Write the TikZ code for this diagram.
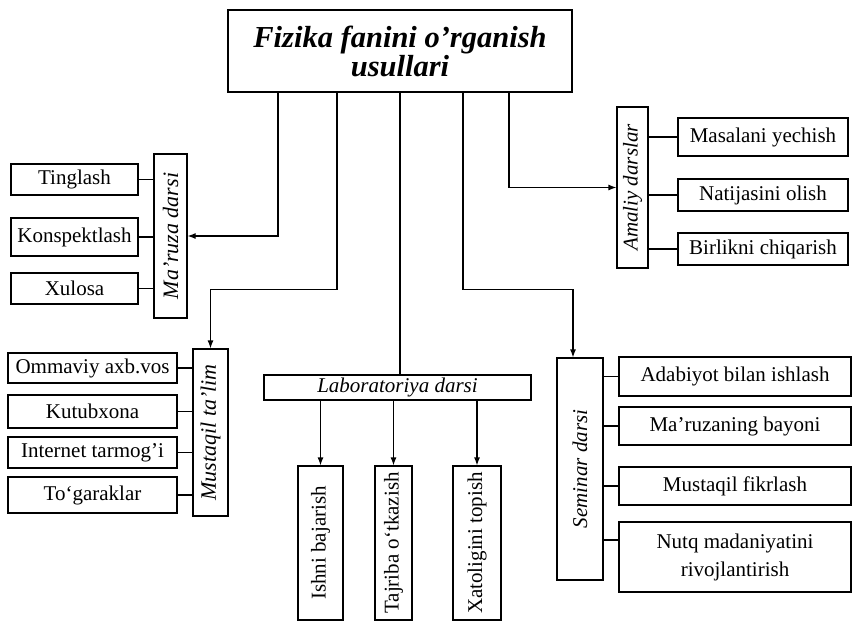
\documentclass[tikz,border=0pt]{standalone}
\usepackage{fontspec}
\setmainfont{Liberation Serif}
\usepackage{graphicx}
\usetikzlibrary{arrows.meta,positioning}

\begin{document}
\begin{tikzpicture}[x=1pt, y=-1pt, line width=1.2pt,
    every node/.style={font=\fontsize{21}{28}\selectfont, inner sep=0pt},
    sz/.style n args={2}{draw, minimum width=#1pt, minimum height=#2pt},
    arr/.style={-{Latex[length=8pt,width=6pt]}}]
    \useasboundingbox (0,0) rectangle (852,621);

    \node[sz={344}{82}, align=center, font=\fontsize{30.5}{29}\selectfont\bfseries\itshape] (title) at (400,51) {Fizika fanini o’rganish\\usullari};

    % Ma'ruza darsi
    \node[sz={33}{164}] (maruza) at (170.5,236) {\rotatebox{90}{\fontsize{22}{22}\selectfont\itshape Ma’ruza darsi}};
    \node[sz={127}{31}] (tinglash) at (74.5,179.5) {Tinglash};
    \node[sz={127}{38}] (konspekt) at (74.5,237) {Konspektlash};
    \node[sz={127}{31}] (xulosa) at (74.5,288.5) {Xulosa};

    % Amaliy darslar
    \node[sz={31}{161}] (amaliy) at (632.5,187.5) {\rotatebox{90}{\itshape Amaliy darslar}};
    \node[sz={170}{38}] (masala) at (763,137) {Masalani yechish};
    \node[sz={170}{32}] (natija) at (763,195) {Natijasini olish};
    \node[sz={170}{32}] (birlik) at (763,249) {Birlikni chiqarish};

    % Mustaqil ta'lim
    \node[sz={35}{167}] (mustaqil) at (210.5,432.5) {\rotatebox{90}{\fontsize{22}{22}\selectfont\itshape Mustaqil ta’lim}};
    \node[sz={169}{30}] (ommaviy) at (92.5,368) {Ommaviy axb.vos};
    \node[sz={169}{33}] (kutub) at (92.5,411.5) {Kutubxona};
    \node[sz={169}{31}] (internet) at (92.5,452.5) {Internet tarmog’i};
    \node[sz={169}{36}] (togarak) at (92.5,495) {To‘garaklar};

    % Laboratoriya darsi
    \node[sz={267}{25}] (lab) at (397.5,387.5) {\itshape Laboratoriya darsi};
    \node[sz={45}{154}] (ishni) at (320.5,543) {\rotatebox{90}{Ishni bajarish}};
    \node[sz={37}{154}] (tajriba) at (393.5,543) {\rotatebox{90}{Tajriba o‘tkazish}};
    \node[sz={48}{154}] (xato) at (477,543) {\rotatebox{90}{Xatoligini topish}};

    % Seminar darsi
    \node[sz={46}{222}] (seminar) at (580,469) {\rotatebox{90}{\itshape Seminar darsi}};
    \node[sz={232}{39}] (adabiyot) at (735,376.5) {Adabiyot bilan ishlash};
    \node[sz={232}{38}] (bayon) at (735,426) {Ma’ruzaning bayoni};
    \node[sz={232}{38}] (fikr) at (735,486) {Mustaqil fikrlash};
    \node[sz={232}{70}, align=center] (nutq) at (735,557) {Nutq madaniyatini\\rivojlantirish};
    \coordinate (nutqin) at ([yshift=17pt]nutq.west);

    % from the title down to each group
    \draw[arr] ([xshift=-122pt]title.south) |- (maruza.east);
    \draw[arr] ([xshift=-63pt]title.south) -- ++(0,197) -| (mustaqil.north);
    \draw (title.south) -- (title.south |- lab.north);
    \draw[arr] ([xshift=63pt]title.south) -- ++(0,197) -| ([xshift=-7pt]seminar.north);
    \draw[arr] ([xshift=109pt]title.south) |- (amaliy.west);

    % short links inside the groups
    \foreach \n in {tinglash,konspekt,xulosa}
        \draw (\n) -- (\n -| maruza.west);
    \foreach \n in {masala,natija,birlik}
        \draw (\n) -- (\n -| amaliy.east);
    \foreach \n in {ommaviy,kutub,internet,togarak}
        \draw (\n) -- (\n -| mustaqil.west);
    \foreach \n in {adabiyot,bayon,fikr}
        \draw (\n) -- (\n -| seminar.east);
    \draw (nutqin) -- (nutqin -| seminar.east);
    \foreach \n in {ishni,tajriba,xato}
        \draw[arr] (lab.south -| \n.north) -- (\n.north);
\end{tikzpicture}
\end{document}
